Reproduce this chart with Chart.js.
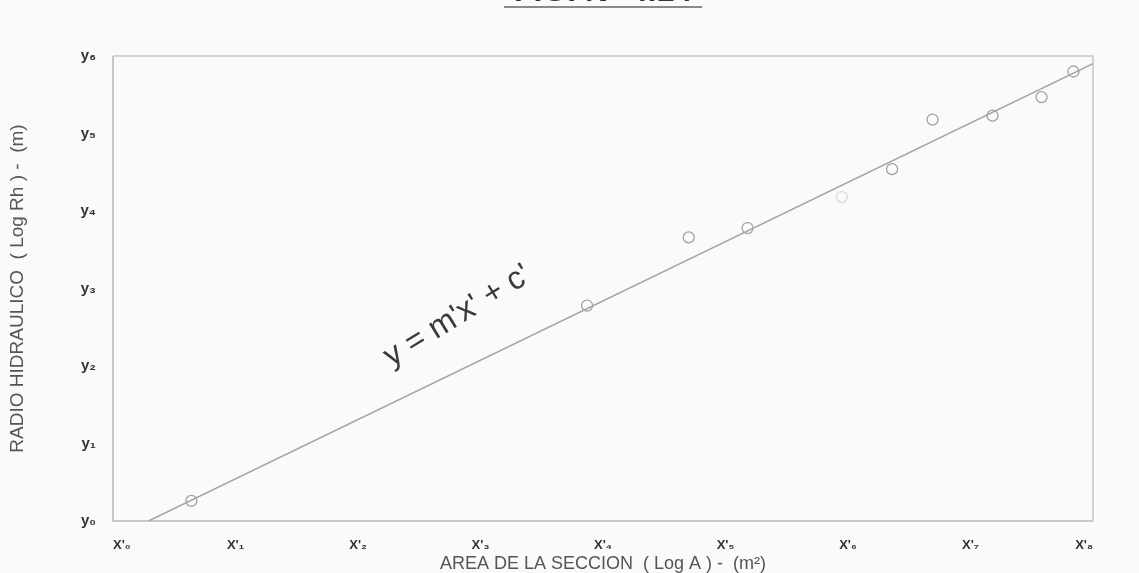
<!DOCTYPE html>
<html>
<head>
<meta charset="utf-8">
<script src="https://cdn.jsdelivr.net/npm/chart.js@4.4.1/dist/chart.umd.min.js"></script>
<style>
  html, body { margin: 0; padding: 0; background: #fafafa; }
  #wrap { width: 1139px; height: 573px; position: relative; }
</style>
</head>
<body>
<div id="wrap"><canvas id="chart" width="1139" height="573"></canvas></div>
<script>
// Tick labels
const xTickLabels = ["X'₀", "X'₁", "X'₂", "X'₃", "X'₄", "X'₅", "X'₆", "X'₇", "X'₈"];
const yTickLabels = ["y₀", "y₁", "y₂", "y₃", "y₄", "y₅", "y₆"];

// Measured points: log of section area vs log of hydraulic radius
const logArea = [0.64, 3.87, 4.70, 5.18, 5.95, 6.36, 6.69, 7.18, 7.58, 7.84];
const logRadius = [0.26, 2.78, 3.66, 3.78, 4.18, 4.54, 5.18, 5.23, 5.47, 5.80];

// Fitted straight line y = m'x' + c' (end points)
const fitX = [0.29, 8.0];
const fitY = [0.0, 5.90];

const figureTitle = "FIG. N° 4.14";
const fitLabel = "y = m'x' + c'";
const xAxisTitle = "AREA DE LA SECCION  ( Log A ) -  (m²)";
const yAxisTitle = "RADIO HIDRAULICO  ( Log Rh ) -  (m)";

const pointData = logArea.map((x, i) => ({ x, y: logRadius[i] }));
const fitData = fitX.map((x, i) => ({ x, y: fitY[i] }));

// one faded marker in the cloud
const markerColors = logArea.map((_, i) => i === 4 ? '#dadada' : '#a2a2a2');

const decor = {
  id: 'decor',
  beforeDatasetsDraw(chart) {
    const { ctx, chartArea: a } = chart;
    ctx.save();
    ctx.lineWidth = 1.5;
    ctx.strokeStyle = '#b8b8b8';
    ctx.beginPath();
    ctx.moveTo(a.left, a.top);
    ctx.lineTo(a.left, a.bottom);
    ctx.lineTo(a.right, a.bottom);
    ctx.stroke();
    ctx.strokeStyle = '#c6c6c6';
    ctx.beginPath();
    ctx.moveTo(a.left, a.top);
    ctx.lineTo(a.right, a.top);
    ctx.lineTo(a.right, a.bottom);
    ctx.stroke();
    ctx.restore();
  },
  afterDatasetsDraw(chart) {
    const { ctx, chartArea: a, scales: { x, y } } = chart;
    // equation written above the fitted line
    const x0 = x.getPixelForValue(fitX[0]), y0 = y.getPixelForValue(fitY[0]);
    const x1 = x.getPixelForValue(fitX[1]), y1 = y.getPixelForValue(fitY[1]);
    const ang = Math.atan2(y1 - y0, x1 - x0);
    const t = 0.35, d = 50;
    const cx = x0 + (x1 - x0) * t + Math.sin(ang) * d;
    const cy = y0 + (y1 - y0) * t - Math.cos(ang) * d;
    ctx.save();
    ctx.translate(cx, cy);
    ctx.rotate(ang - 0.10);
    ctx.font = '32px "Liberation Sans", Arial, sans-serif';
    ctx.fillStyle = '#3a3a3a';
    ctx.textAlign = 'center';
    ctx.textBaseline = 'middle';
    ctx.fillText(fitLabel, 0, 0);
    ctx.restore();

    // figure caption at the very top, underlined
    const mid = (a.left + a.right) / 2;
    ctx.save();
    ctx.font = 'bold 32px "Liberation Sans", Arial, sans-serif';
    ctx.fillStyle = '#333';
    ctx.textAlign = 'center';
    ctx.textBaseline = 'alphabetic';
    ctx.fillText(figureTitle, mid, 1);
    const w = ctx.measureText(figureTitle).width;
    ctx.strokeStyle = '#8a8a8a';
    ctx.lineWidth = 2;
    ctx.beginPath();
    ctx.moveTo(mid - w / 2 - 10, 7);
    ctx.lineTo(mid + w / 2 + 10, 7);
    ctx.stroke();
    ctx.restore();
  }
};

new Chart(document.getElementById('chart'), {
  type: 'scatter',
  data: {
    datasets: [
      {
        type: 'line',
        data: fitData,
        borderColor: '#a4a4a4',
        borderWidth: 1.5,
        pointRadius: 0,
        fill: false,
        tension: 0
      },
      {
        type: 'scatter',
        data: pointData,
        pointStyle: 'circle',
        pointRadius: 5.5,
        pointBorderWidth: 1.3,
        pointBorderColor: markerColors,
        pointBackgroundColor: 'rgba(0,0,0,0)'
      }
    ]
  },
  options: {
    responsive: false,
    animation: false,
    devicePixelRatio: 1,
    layout: { padding: { left: 0, top: 56, right: 46, bottom: 0 } },
    plugins: { legend: { display: false }, tooltip: { enabled: false } },
    scales: {
      x: {
        type: 'linear',
        position: 'bottom',
        min: 0, max: 8,
        grid: { display: false, drawTicks: false },
        border: { display: false },
        ticks: {
          stepSize: 1,
          autoSkip: false,
          maxRotation: 0,
          align: 'inner',
          padding: 17,
          color: '#333',
          font: { family: '"Liberation Sans Narrow", "Liberation Sans", Arial, sans-serif', size: 13, weight: 'bold' },
          callback: (v) => xTickLabels[v]
        },
        title: {
          display: true,
          text: xAxisTitle,
          color: '#555',
          font: { family: '"Liberation Sans", Arial, sans-serif', size: 18, lineHeight: 1.0 },
          padding: { top: 0, bottom: 0 }
        },
        afterFit: (s) => { s.height = 52; }
      },
      y: {
        type: 'linear',
        min: 0, max: 6,
        grid: { display: false, drawTicks: false },
        border: { display: false },
        ticks: {
          stepSize: 1,
          autoSkip: false,
          padding: 17,
          color: '#333',
          font: { family: '"Liberation Sans", Arial, sans-serif', size: 15, weight: 'bold' },
          callback: (v) => yTickLabels[v]
        },
        title: {
          display: true,
          text: yAxisTitle,
          color: '#555',
          font: { family: '"Liberation Sans", Arial, sans-serif', size: 19 },
          padding: { top: 6, bottom: 0 }
        },
        afterFit: (s) => { s.width = 113; }
      }
    }
  },
  plugins: [decor]
});
</script>
</body>
</html>
